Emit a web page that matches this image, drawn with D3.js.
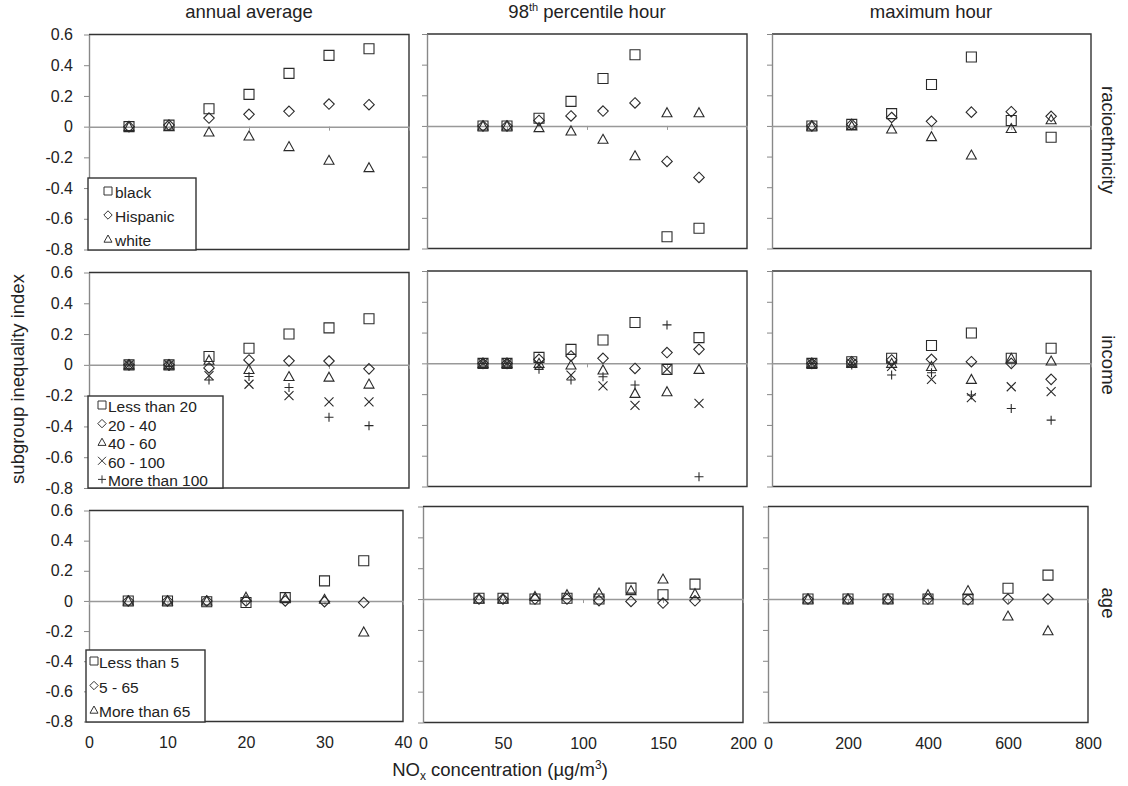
<!DOCTYPE html>
<html>
<head>
<meta charset="utf-8">
<script src="https://cdn.jsdelivr.net/npm/d3@7"></script>
<style>
  body { margin: 0; background: #fff; }
  text { font-family: "Liberation Sans", Arial, sans-serif; fill: #222; }
</style>
</head>
<body>
<script>
// column / row labels
var colTitles = ["annual average", "98th percentile hour", "maximum hour"];
var rowLabels = ["racioethnicity", "income", "age"];

// x values per column, x ticks per column
var xAnnual = [5, 10, 15, 20, 25, 30, 35];
var x98th = [35, 50, 70, 90, 110, 130, 150, 170];
var xMaxHour = [100, 200, 300, 400, 500, 600, 700];
var ticksAnnual = [0, 10, 20, 30, 40];
var ticks98th = [0, 50, 100, 150, 200];
var ticksMaxHour = [0, 200, 400, 600, 800];
var yTicks = [0.6, 0.4, 0.2, 0, -0.2, -0.4, -0.6, -0.8];

// series names
var raceSeries = ["black", "Hispanic", "white"];
var incomeSeries = ["Less than 20", "20 - 40", "40 - 60", "60 - 100", "More than 100"];
var ageSeries = ["Less than 5", "5 - 65", "More than 65"];

// racioethnicity values (black, Hispanic, white)
var raceAnnual = [
  [0, 0.01, 0.117, 0.21, 0.347, 0.464, 0.507],
  [0, 0.01, 0.056, 0.08, 0.10, 0.147, 0.143],
  [0, 0, -0.035, -0.061, -0.13, -0.219, -0.267]
];
var race98th = [
  [0, 0, 0.05, 0.16, 0.31, 0.465, -0.723, -0.668],
  [0, 0, 0.036, 0.065, 0.097, 0.15, -0.232, -0.336],
  [0, 0, -0.011, -0.033, -0.087, -0.195, 0.086, 0.086]
];
var raceMaxHour = [
  [0, 0.01, 0.08, 0.27, 0.45, 0.035, -0.074],
  [0, 0.01, 0.055, 0.03, 0.09, 0.093, 0.063],
  [0, 0, -0.02, -0.07, -0.19, -0.017, 0.04]
];

// income values (<20, 20-40, 40-60, 60-100, >100)
var incomeAnnual = [
  [0, 0, 0.054, 0.108, 0.2, 0.24, 0.30],
  [0, 0, -0.02, 0.032, 0.026, 0.025, -0.026],
  [0, 0, 0.03, -0.03, -0.076, -0.08, -0.125],
  [0, 0, -0.07, -0.126, -0.2, -0.24, -0.24],
  [0, -0.01, -0.098, -0.076, -0.147, -0.34, -0.395]
];
var income98th = [
  [0, 0, 0.039, 0.091, 0.152, 0.265, -0.039, 0.167],
  [0, 0, 0.026, 0.048, 0.033, -0.033, 0.07, 0.091],
  [0, 0, 0, -0.011, -0.043, -0.195, -0.184, -0.039],
  [0, 0, -0.01, -0.076, -0.147, -0.273, -0.039, -0.26],
  [0, 0, -0.039, -0.108, -0.087, -0.141, 0.25, -0.737]
];
var incomeMaxHour = [
  [0, 0.01, 0.033, 0.116, 0.197, 0.033, 0.098],
  [0, 0.01, 0.022, 0.026, 0.011, 0, -0.104],
  [0, 0, 0, -0.02, -0.104, 0.033, 0.015],
  [0, 0, -0.02, -0.104, -0.223, -0.152, -0.184],
  [0, -0.01, -0.076, -0.061, -0.206, -0.293, -0.369]
];

// age values (<5, 5-65, >65)
var ageAnnual = [
  [0, 0, -0.005, -0.01, 0.022, 0.133, 0.267],
  [0, 0, 0, 0, 0, -0.005, -0.011],
  [0, 0, 0, 0.025, 0.02, 0.011, -0.206]
];
var age98th = [
  [0.005, 0.005, 0, 0.005, 0, 0.071, 0.028, 0.097],
  [0, 0, 0, 0, -0.01, -0.015, -0.026, -0.011],
  [0, 0, 0.017, 0.028, 0.039, 0.055, 0.13, 0.035]
];
var ageMaxHour = [
  [0, 0, 0, 0, 0, 0.07, 0.155],
  [0, 0, 0, 0, -0.005, 0, 0],
  [0, 0, 0, 0.028, 0.055, -0.11, -0.205]
];

var xValues = [xAnnual, x98th, xMaxHour];
var xTicks = [ticksAnnual, ticks98th, ticksMaxHour];
var rowSeries = [raceSeries, incomeSeries, ageSeries];
var rowData = [
  [raceAnnual, race98th, raceMaxHour],
  [incomeAnnual, income98th, incomeMaxHour],
  [ageAnnual, age98th, ageMaxHour]
];

// panel boxes [left, right, top, bottom] (Excel layout is slightly uneven)
var boxes = [
  [[89, 409, 34.5, 249.5], [427, 747, 34, 248.5], [772, 1091, 34, 248.5]],
  [[89, 409, 272.5, 488], [427, 747, 271, 486.5], [772, 1091, 271, 486.5]],
  [[89, 403, 510.5, 721.5], [423, 743, 506.5, 722.5], [768, 1088, 506.5, 722.5]]
];

// legend boxes [x, y, w, h, markerX, textX, first item y, step]
var legends = [
  [88, 178, 108, 72, 108, 115, 193, 24],
  [88, 396, 135, 92, 102, 108, 407, 18.6],
  [86, 650, 119, 72, 94, 99, 663, 24.5]
];

// custom marker shapes, size = full width in px
function sym(draw) { return { draw: function(ctx, s) { draw(ctx, s / 2); } }; }
var shapes = [
  sym(function(c, r) { c.moveTo(-r, -r); c.lineTo(r, -r); c.lineTo(r, r); c.lineTo(-r, r); c.closePath(); }),
  sym(function(c, r) { r *= 1.05; c.moveTo(0, -r); c.lineTo(r, 0); c.lineTo(0, r); c.lineTo(-r, 0); c.closePath(); }),
  sym(function(c, r) { c.moveTo(0, -r); c.lineTo(r, r * 0.8); c.lineTo(-r, r * 0.8); c.closePath(); }),
  sym(function(c, r) { c.moveTo(-r, -r); c.lineTo(r, r); c.moveTo(r, -r); c.lineTo(-r, r); }),
  sym(function(c, r) { c.moveTo(-r, 0); c.lineTo(r, 0); c.moveTo(0, -r); c.lineTo(0, r); })
];

var svg = d3.select("body").append("svg")
    .attr("width", 1128)
    .attr("height", 786);

var yFmt = function(d) { return d === 0 ? "0" : d.toFixed(1); };

rowData.forEach(function(row, r) {
  row.forEach(function(values, c) {
    var b = boxes[r][c];
    var x = d3.scaleLinear().domain([0, xTicks[c][xTicks[c].length - 1]]).range([b[0], b[1]]);
    var y = d3.scaleLinear().domain([-0.8, 0.6]).range([b[3], b[2]]);
    var g = svg.append("g");

    // plot border (top, right, bottom dark)
    g.append("path")
        .attr("d", "M" + b[0] + "," + b[2] + "H" + b[1] + "V" + b[3] + "H" + b[0])
        .attr("fill", "none")
        .attr("stroke", "#333")
        .attr("stroke-width", 1.4);

    // y axis on the left edge
    var ya = g.append("g")
        .attr("transform", "translate(" + b[0] + ",0)")
        .call(d3.axisLeft(y).tickValues(yTicks).tickSize(5).tickSizeOuter(0).tickPadding(11)
          .tickFormat(c === 0 ? yFmt : ""));
    ya.select(".domain").attr("stroke", "#888").attr("stroke-width", 1.4);
    ya.selectAll(".tick line").attr("stroke", "#888");
    ya.selectAll(".tick text").attr("font-size", 16).attr("font-family", "Liberation Sans, Arial, sans-serif").attr("fill", "#222");

    // x axis along the zero line
    var xa = g.append("g")
        .attr("transform", "translate(0," + y(0) + ")")
        .call(d3.axisBottom(x).tickValues(xTicks[c]).tickSize(4).tickSizeOuter(0).tickFormat(""));
    xa.select(".domain").attr("stroke", "#999").attr("stroke-width", 1.5);
    xa.selectAll(".tick line").attr("stroke", "#999");

    // tick labels under the bottom row
    if (r === 2) {
      var xl = g.append("g")
          .attr("transform", "translate(0," + b[3] + ")")
          .call(d3.axisBottom(x).tickValues(xTicks[c]).tickSize(0).tickPadding(15));
      xl.select(".domain").remove();
      xl.selectAll(".tick text").attr("font-size", 16).attr("font-family", "Liberation Sans, Arial, sans-serif").attr("fill", "#222");
    }

    // markers
    values.forEach(function(series, s) {
      g.selectAll(null)
          .data(series)
          .enter()
          .append("path")
          .attr("transform", function(d, i) { return "translate(" + x(xValues[c][i]) + "," + y(d) + ")"; })
          .attr("d", d3.symbol().type(shapes[s]).size(s < 3 ? 10 : 9))
          .attr("fill", "none")
          .attr("stroke", "#2a2a2a")
          .attr("stroke-width", 1.1);
    });
  });

  // legend in the left panel
  var L = legends[r];
  var lg = svg.append("g");
  lg.append("rect")
      .attr("x", L[0]).attr("y", L[1]).attr("width", L[2]).attr("height", L[3])
      .attr("fill", "#fff").attr("stroke", "#333").attr("stroke-width", 1.4);
  rowSeries[r].forEach(function(name, s) {
    var cy = L[6] + s * L[7];
    lg.append("path")
        .attr("transform", "translate(" + (L[4]) + "," + (cy - 2) + ")")
        .attr("d", d3.symbol().type(shapes[s]).size(8))
        .attr("fill", "none").attr("stroke", "#333").attr("stroke-width", 1);
    lg.append("text")
        .attr("x", L[5]).attr("y", cy + 5)
        .attr("font-size", 15.5)
        .text(name);
  });

  // row label on the right
  var ly = [140, 365, 603][r];
  svg.append("text")
      .attr("transform", "translate(1102," + ly + ") rotate(90)")
      .attr("text-anchor", "middle")
      .attr("font-size", 18.5)
      .text(rowLabels[r]);
});

// column titles
var titleX = [249, 587, 931];
colTitles.forEach(function(t, c) {
  var tx = svg.append("text")
      .attr("x", titleX[c]).attr("y", 18)
      .attr("text-anchor", "middle")
      .attr("font-size", 18.5);
  if (c === 1) {
    tx.append("tspan").text("98");
    tx.append("tspan").attr("font-size", 11).attr("dy", -7).text("th");
    tx.append("tspan").attr("dy", 7).text(" percentile hour");
  } else {
    tx.text(t);
  }
});

// y axis title
svg.append("text")
    .attr("transform", "translate(24,379) rotate(-90)")
    .attr("text-anchor", "middle")
    .attr("font-size", 18.5)
    .text("subgroup inequality index");

// x axis title
var xt = svg.append("text")
    .attr("x", 500).attr("y", 776)
    .attr("text-anchor", "middle")
    .attr("font-size", 18.5);
xt.append("tspan").text("NO");
xt.append("tspan").attr("font-size", 12).attr("dy", 4).text("x");
xt.append("tspan").attr("dy", -4).text(" concentration (\u00b5g/m");
xt.append("tspan").attr("font-size", 12).attr("dy", -7).text("3");
xt.append("tspan").attr("dy", 7).text(")");
</script>
</body>
</html>
